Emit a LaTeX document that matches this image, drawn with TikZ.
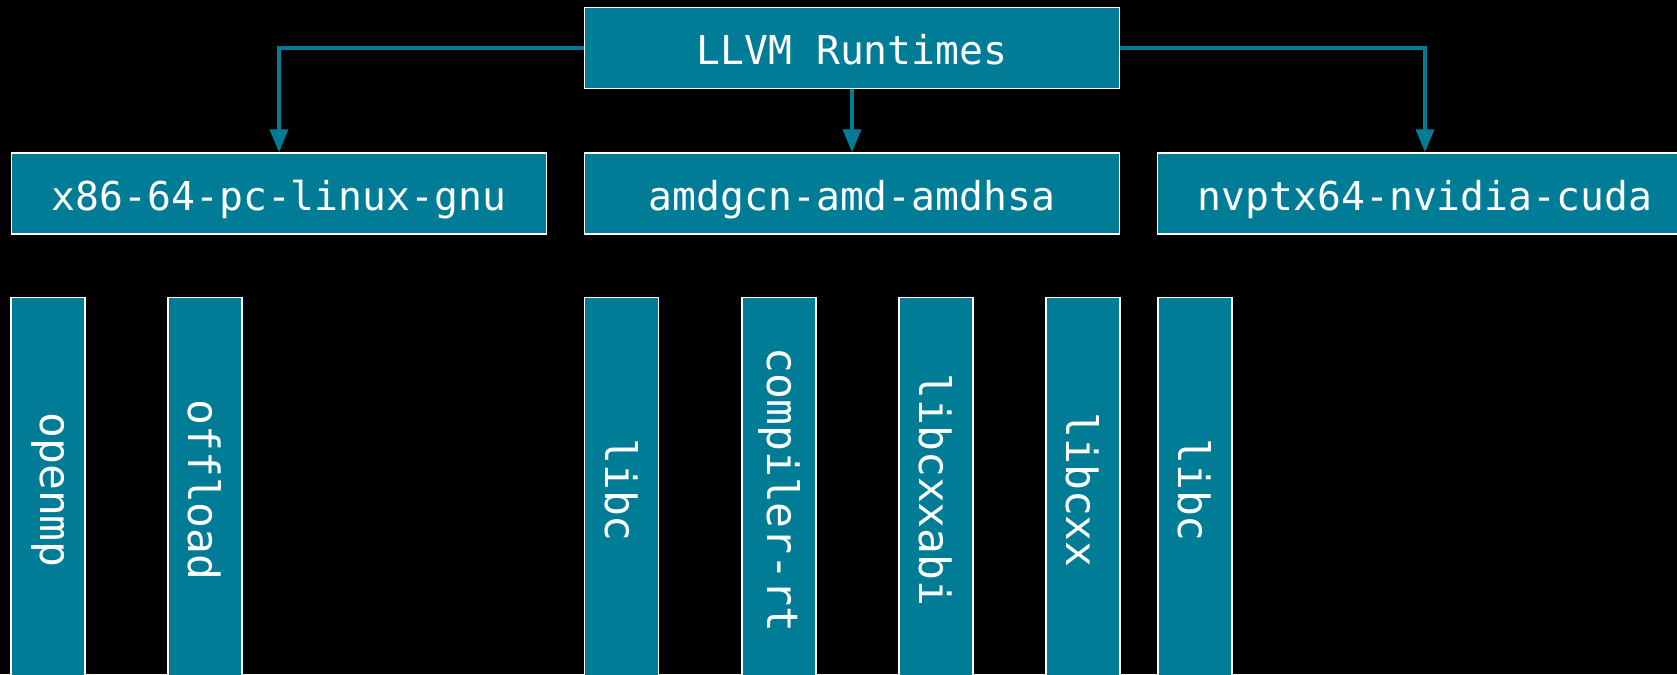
\documentclass[tikz,border=0pt]{standalone}
\usepackage{fontspec}
\setmonofont{DejaVu Sans Mono}
\usetikzlibrary{arrows.meta}
\definecolor{rtteal}{RGB}{0,124,150}

\begin{document}
\begin{tikzpicture}[x=0.02cm, y=-0.02cm]
    \tikzstyle{every node}+=[inner sep=0pt]
    \tikzstyle{target}=[draw=white, line width=0.8pt, fill=rtteal, text=white, minimum width=10.7cm, minimum height=1.62cm, text height=19.2pt, text depth=0pt, font=\ttfamily\fontsize{22.6}{27}\selectfont]
    \tikzstyle{runtime}=[draw=white, line width=0.8pt, fill=rtteal, text=white, rotate=-90, minimum width=7.7cm, minimum height=1.48cm, font=\ttfamily\fontsize{24.5}{29}\selectfont]
    \tikzstyle{link}=[draw=rtteal, line width=2.2pt, -{Triangle[length=0.46cm,width=0.36cm]}]
    \fill [black] (0,0) rectangle (1677,674);
    \clip (0,0) rectangle (1677,674);
    \node [target] (llvm) at (852,48) {LLVM Runtimes};
    \node [target] (x86) at (279,193.5) {x86-64-pc-linux-gnu};
    \node [target] (amd) at (852,193.5) {amdgcn-amd-amdhsa};
    \node [target] (nvptx) at (1425,193.5) {nvptx64-nvidia-cuda};
    \draw [link] (llvm.west) -| (x86.north);
    \draw [link] (llvm.south) -- (amd.north);
    \draw [link] (llvm.east) -| (nvptx.north);
    % runtimes of each target
    \node [runtime] (openmp) at (48,490) {openmp};
    \node [runtime] (offload) at (205,490) {offload};
    \node [runtime] (amdlibc) at (621.5,490) {libc};
    \node [runtime] (compilerrt) at (779,490) {compiler-rt};
    \node [runtime] (libcxxabi) at (936,490) {libcxxabi};
    \node [runtime] (libcxx) at (1083,490) {libcxx};
    \node [runtime] (nvlibc) at (1195,490) {libc};
\end{tikzpicture}
\end{document}
